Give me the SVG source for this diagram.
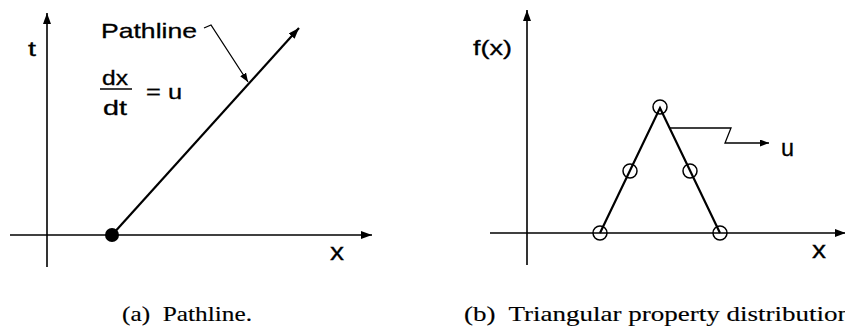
<svg xmlns="http://www.w3.org/2000/svg" width="845" height="327" viewBox="0 0 845 327">
  <style>
    .ax { stroke: #000; stroke-width: 1.6; fill: none; }
    .thick { stroke: #000; stroke-width: 2.2; fill: none; }
    .thin { stroke: #000; stroke-width: 1.3; fill: none; }
    .pt { stroke: #000; stroke-width: 1.5; fill: none; }
    .sans { font-family: "Liberation Sans", Arial, sans-serif; font-size: 21px; fill: #000; stroke: #000; stroke-width: 0.3; }
    .big { font-size: 23px; }
    .serif { font-family: "Liberation Serif", "Times New Roman", serif; font-size: 21px; fill: #000; stroke: #000; stroke-width: 0.15; }
  </style>
  <defs>
    <marker id="arr" markerUnits="userSpaceOnUse" markerWidth="12" markerHeight="8" refX="11" refY="4" orient="auto">
      <path d="M0,0 L11,4 L0,8 z" fill="#000"/>
    </marker>
    <marker id="arrs" markerUnits="userSpaceOnUse" markerWidth="10" markerHeight="7" refX="9" refY="3.5" orient="auto">
      <path d="M0,0 L9,3.5 L0,7 z" fill="#000"/>
    </marker>
  </defs>

  <g id="panel-a">
    <g id="axes-a">
      <line class="ax" x1="47" y1="267" x2="47" y2="13" marker-end="url(#arr)"/>
      <line class="ax" x1="10" y1="235" x2="372" y2="235" marker-end="url(#arr)"/>
      <text class="sans" x="28" y="56" textLength="8" lengthAdjust="spacingAndGlyphs">t</text>
      <text class="sans big" x="330" y="260" textLength="14" lengthAdjust="spacingAndGlyphs">x</text>
    </g>
    <g id="pathline">
      <line class="thick" x1="112" y1="235" x2="299" y2="28" marker-end="url(#arr)"/>
      <circle cx="112" cy="235" r="7" fill="#000"/>
    </g>
    <g id="pathline-label">
      <text class="sans" x="101" y="38" textLength="96" lengthAdjust="spacingAndGlyphs">Pathline</text>
      <path class="thin" d="M204,28 L211,25 L248,82" marker-end="url(#arrs)"/>
    </g>
    <g id="equation">
      <text class="sans" x="102" y="85" textLength="26" lengthAdjust="spacingAndGlyphs">dx</text>
      <line class="pt" x1="100" y1="89" x2="132" y2="89"/>
      <text class="sans" x="103" y="115" textLength="24" lengthAdjust="spacingAndGlyphs">dt</text>
      <text class="sans" x="146" y="99" textLength="36" lengthAdjust="spacingAndGlyphs">= u</text>
    </g>
    <text id="caption-a" class="serif" x="122" y="321" textLength="130" lengthAdjust="spacingAndGlyphs">(a)&#160; Pathline.</text>
  </g>

  <g id="panel-b">
    <g id="axes-b">
      <line class="ax" x1="527" y1="265" x2="527" y2="10" marker-end="url(#arr)"/>
      <line class="ax" x1="490" y1="233" x2="846" y2="233" marker-end="url(#arr)"/>
      <text class="sans" x="473" y="55" textLength="39" lengthAdjust="spacingAndGlyphs">f(x)</text>
      <text class="sans big" x="812" y="258" textLength="14" lengthAdjust="spacingAndGlyphs">x</text>
    </g>
    <g id="triangle">
      <polyline class="thick" points="600,233 660,108 720,233"/>
      <circle class="pt" cx="660" cy="107" r="7"/>
      <circle class="pt" cx="630" cy="171" r="7"/>
      <circle class="pt" cx="690" cy="171" r="7"/>
      <circle class="pt" cx="600" cy="233" r="7"/>
      <circle class="pt" cx="720" cy="233" r="7"/>
    </g>
    <g id="velocity">
      <path class="thin" d="M670,128 L731,128 L725,143 L769,143" marker-end="url(#arrs)"/>
      <text class="sans big" x="781" y="156" textLength="13" lengthAdjust="spacingAndGlyphs">u</text>
    </g>
    <text id="caption-b" class="serif" x="464" y="321" textLength="387" lengthAdjust="spacingAndGlyphs">(b)&#160; Triangular property distribution</text>
  </g>
</svg>
